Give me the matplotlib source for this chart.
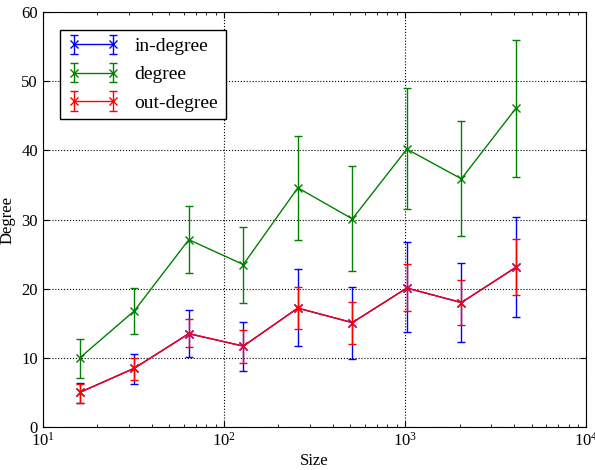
import matplotlib
matplotlib.use('Agg')
import matplotlib.pyplot as plt

# tamaños de grafo (eje x, logaritmico)
sizes = [16, 32, 64, 128, 256, 512, 1024, 2048, 4096]

# grado medio de entrada / salida (son iguales)
io_mean = [5.0, 8.5, 13.5, 11.7, 17.2, 15.1, 20.1, 18.0, 23.1]

# in-degree: limites de la barra de error
in_lo = [3.4, 6.2, 10.1, 8.1, 11.7, 9.9, 13.7, 12.3, 15.9]
in_hi = [6.4, 10.6, 16.9, 15.2, 22.8, 20.2, 26.7, 23.7, 30.4]

# degree
deg_mean = [10.0, 16.8, 27.1, 23.5, 34.6, 30.1, 40.2, 35.9, 46.1]
deg_lo = [7.1, 13.5, 22.3, 17.9, 27.1, 22.5, 31.5, 27.7, 36.2]
deg_hi = [12.7, 20.1, 31.9, 29.0, 42.1, 37.7, 49.0, 44.2, 56.0]

# out-degree
out_lo = [3.5, 6.8, 11.5, 9.3, 14.2, 12.0, 16.8, 14.7, 19.1]
out_hi = [6.2, 10.0, 15.6, 14.1, 20.3, 18.1, 23.6, 21.3, 27.2]

plt.rcParams['font.family'] = ['Liberation Serif', 'DejaVu Serif']
plt.rcParams['xtick.direction'] = 'in'
plt.rcParams['ytick.direction'] = 'in'


def errores(media, lo, hi):
    return [[m - l for m, l in zip(media, lo)], [h - m for m, h in zip(media, hi)]]


fig = plt.figure(figsize=(5.95, 4.7), dpi=100)
ax = fig.add_axes([0.072, 0.0915, 0.913, 0.8825])

ax.errorbar(sizes, io_mean, yerr=errores(io_mean, in_lo, in_hi), color='b',
            marker='x', capsize=3, lw=1.0, label='in-degree')
ax.errorbar(sizes, deg_mean, yerr=errores(deg_mean, deg_lo, deg_hi), color='g',
            marker='x', capsize=3, lw=1.0, label='degree')
ax.errorbar(sizes, io_mean, yerr=errores(io_mean, out_lo, out_hi), color='r',
            marker='x', capsize=3, lw=1.0, label='out-degree')

ax.set_xscale('log')
ax.set_xlim(10, 10000)
ax.set_ylim(0, 60)
ax.grid(True, which='major', color='k', linestyle=':', linewidth=0.8)
ax.tick_params(which='both', top=True, right=True)
ax.tick_params(which='major', length=4)
ax.tick_params(which='minor', length=2)
ax.tick_params(labelsize=12)
ax.set_xlabel('Size', fontsize=12, labelpad=2)
ax.set_ylabel('Degree', fontsize=12, labelpad=4)

leg = ax.legend(loc='upper left', numpoints=2, fontsize=14, fancybox=False,
                framealpha=1, edgecolor='k', handlelength=2.6,
                borderaxespad=0.9, labelspacing=0.55)
leg.get_frame().set_linewidth(1.0)

fig.savefig('out.png', dpi=100)
